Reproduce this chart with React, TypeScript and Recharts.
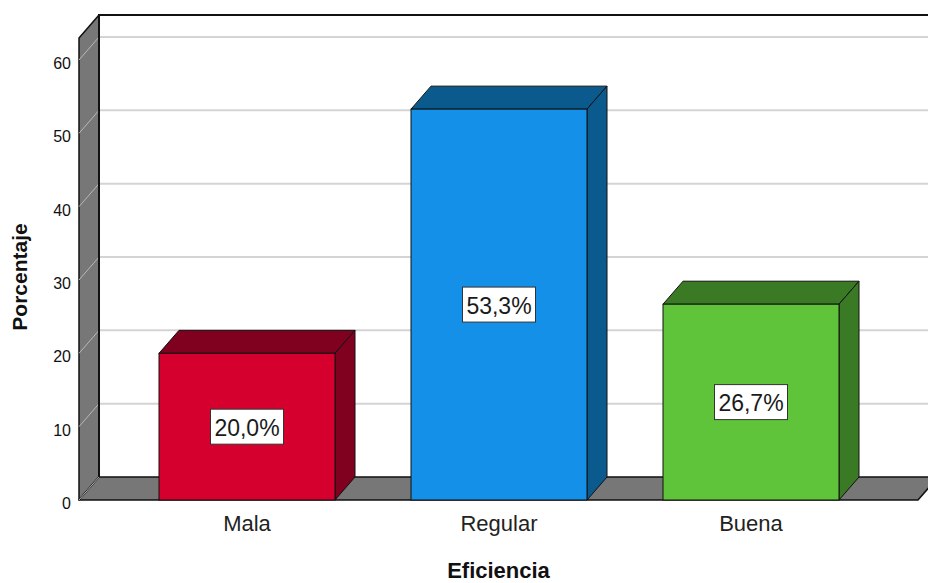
import React from 'react';
import { BarChart, Bar, XAxis, YAxis, CartesianGrid, LabelList } from 'recharts';

// Categories and their percentages
const categories = ['Mala', 'Regular', 'Buena'];
const percentages = [20.0, 53.3, 26.7];
const yTicks = [0, 10, 20, 30, 40, 50, 60];
const yDomainMax = 63;

// Bar face colours (front) and shaded colours (top and side)
const faceColors = ['#d6002f', '#1490e8', '#5fc43a'];
const shadeColors = ['#800020', '#0b5a8e', '#3a7a25'];

const data = categories.map((name, i) => ({ name, value: percentages[i] }));

const DX = 20;
const DY = 23;
const FONT = '"Liberation Sans", Arial, sans-serif';
const WALL = '#777777';
const EDGE = '#111111';

const colorIndex = (p: any) => {
  const i = categories.indexOf(p?.payload?.name);
  return i >= 0 ? i : (p.index ?? 0);
};

// Extruded box for each bar
const Box3D = (p: any) => {
  const { x, y, width, height } = p;
  if (width == null || height == null) return null;
  const i = colorIndex(p);
  const face = faceColors[i];
  const shade = shadeColors[i];
  return (
    <g>
      <polygon
        points={`${x},${y} ${x + DX},${y - DY} ${x + width + DX},${y - DY} ${x + width},${y}`}
        fill={shade}
        stroke={EDGE}
        strokeWidth={1}
        strokeLinejoin="round"
      />
      <polygon
        points={`${x + width},${y} ${x + width + DX},${y - DY} ${x + width + DX},${y + height - DY} ${x + width},${y + height}`}
        fill={shade}
        stroke={EDGE}
        strokeWidth={1}
        strokeLinejoin="round"
      />
      <rect x={x} y={y} width={width} height={height} fill={face} stroke={EDGE} strokeWidth={1} />
    </g>
  );
};

// Boxed percentage label in the middle of the front face
const ValueTag = (p: any) => {
  const { x, y, width, height, value } = p;
  const cx = x + width / 2;
  const cy = y + height / 2;
  const text = `${Number(value).toFixed(1).replace('.', ',')}%`;
  return (
    <g>
      <rect x={cx - 36.5} y={cy - 17.5} width={73} height={35} fill="#ffffff" stroke="#333333" strokeWidth={1} />
      <text x={cx} y={cy + 1} dy="0.36em" textAnchor="middle" fontSize={23} fontFamily={FONT} fill="#1a1a1a">
        {text}
      </text>
    </g>
  );
};

// Walls, floor and gridlines of the 3D frame
const GridLine = (p: any) => {
  const { x1, y1, x2, index, key } = p;
  const left = x1;
  const right = x2;
  const top = typeof p.y === 'number' ? p.y : 38;
  const bottom = top + (typeof p.height === 'number' ? p.height : 462);
  const atFloor = Math.abs(y1 - bottom) < 0.5;
  const atTop = Math.abs(y1 - top) < 0.5;
  return (
    <g key={key}>
      {index === 0 && (
        <g>
          <polygon
            points={`${left},${top} ${left + DX},${top - DY} ${left + DX},${bottom - DY} ${left},${bottom}`}
            fill={WALL}
            stroke={EDGE}
            strokeWidth={1.5}
            strokeLinejoin="round"
          />
          <polygon
            points={`${left},${bottom} ${left + DX},${bottom - DY} ${right + DX},${bottom - DY} ${right},${bottom}`}
            fill={WALL}
            stroke={EDGE}
            strokeWidth={1.5}
            strokeLinejoin="round"
          />
        </g>
      )}
      {!atFloor && !atTop && (
        <line x1={left + DX} y1={y1 - DY} x2={right + DX} y2={y1 - DY} stroke="#d4d4d4" strokeWidth={2} />
      )}
      {!atTop && <line x1={left} y1={y1} x2={left + DX} y2={y1 - DY} stroke="#b8b8b8" strokeWidth={1} />}
    </g>
  );
};

// Top border of the back wall, drawn over the gridlines
const BackFrame = (p: any) => {
  const { x1, x2, index, key } = p;
  const top = typeof p.y === 'number' ? p.y : 38;
  const bottom = top + (typeof p.height === 'number' ? p.height : 462);
  if (index !== 0) return <g key={key} />;
  return (
    <polyline
      key={key}
      points={`${x1 + DX},${bottom - DY} ${x1 + DX},${top - DY} ${x2 + DX + 40},${top - DY}`}
      fill="none"
      stroke={EDGE}
      strokeWidth={2}
    />
  );
};

const CategoryTick = (p: any) => (
  <text x={p.x} y={p.y} dy={31} textAnchor="middle" fontSize={22} fontFamily={FONT} fill="#222222">
    {p.payload.value}
  </text>
);

const ValueTick = (p: any) => (
  <text x={p.x} y={p.y} dy={9} textAnchor="end" fontSize={16} fontFamily={FONT} fill="#111111">
    {p.payload.value}
  </text>
);

const XTitle = (p: any) => {
  const vb = p.viewBox || {};
  return (
    <text
      x={vb.x + vb.width / 2}
      y={vb.y + vb.height + 38}
      textAnchor="middle"
      fontSize={22}
      fontWeight="bold"
      fontFamily={FONT}
      fill="#111111"
    >
      Eficiencia
    </text>
  );
};

const YTitle = (p: any) => {
  const vb = p.viewBox || {};
  const bx = vb.x + 8;
  const cy = vb.y + vb.height / 2 + 8;
  return (
    <text
      x={bx}
      y={cy}
      transform={`rotate(-90 ${bx} ${cy})`}
      textAnchor="middle"
      fontSize={21}
      fontWeight="bold"
      fontFamily={FONT}
      fill="#111111"
    >
      Porcentaje
    </text>
  );
};

export default function App() {
  return (
    <div style={{ position: 'absolute', left: 0, top: 0, width: 928, height: 583, background: '#ffffff' }}>
      <BarChart
        width={928}
        height={583}
        data={data}
        margin={{ top: 38, right: 10, bottom: 43, left: 19 }}
      >
        <CartesianGrid vertical={false} horizontal={GridLine} />
        <CartesianGrid vertical={false} horizontal={BackFrame} />
        <XAxis
          dataKey="name"
          axisLine={false}
          tickLine={false}
          tickSize={0}
          tickMargin={0}
          height={40}
          padding={{ left: 42, right: 41 }}
          tick={CategoryTick}
          label={XTitle}
        />
        <YAxis
          type="number"
          domain={[0, yDomainMax]}
          ticks={yTicks}
          axisLine={false}
          tickLine={false}
          tickSize={0}
          tickMargin={8}
          width={60}
          tick={ValueTick}
          label={YTitle}
        />
        <Bar dataKey="value" barSize={176} shape={Box3D} isAnimationActive={false}>
          <LabelList dataKey="value" content={ValueTag} />
        </Bar>
      </BarChart>
    </div>
  );
}
